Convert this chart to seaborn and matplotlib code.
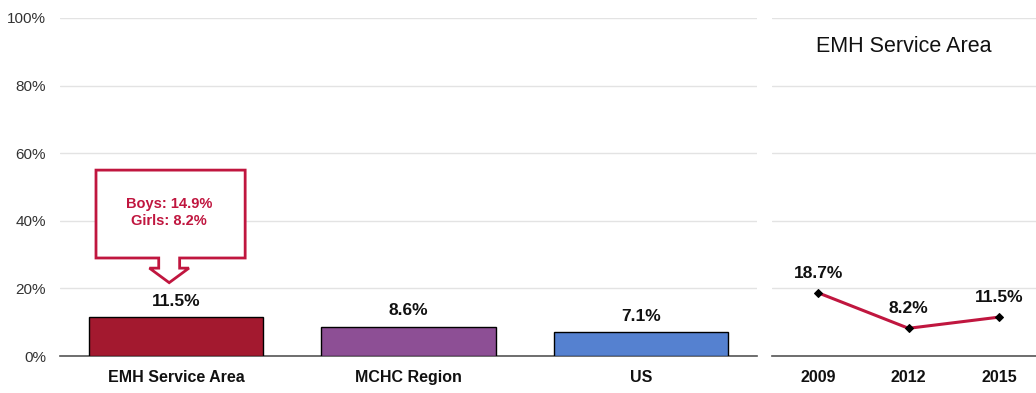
import matplotlib
matplotlib.use("Agg")
import matplotlib.pyplot as plt
import seaborn as sns
import pandas as pd
from matplotlib.patches import Polygon
from matplotlib.ticker import FuncFormatter

categories = ["EMH Service Area", "MCHC Region", "US"]
values = [11.5, 8.6, 7.1]
bar_colors = ["#A3192F", "#8D4F95", "#5581D0"]
years = ["2009", "2012", "2015"]
trend = [18.7, 8.2, 11.5]
callout_lines = ["Boys: 14.9%", "Girls: 8.2%"]
yticks = [0, 20, 40, 60, 80, 100]

sns.set_theme(style="white")
plt.rcParams["font.family"] = ["Liberation Sans Narrow", "Liberation Sans", "DejaVu Sans"]

fig = plt.figure(figsize=(10.36, 3.93), dpi=100)
ax = fig.add_axes([0.0579, 0.0941, 0.6728, 0.8601])
ax2 = fig.add_axes([0.7452, 0.0941, 0.2548, 0.8601])

df = pd.DataFrame({"cat": categories, "val": values})
sns.barplot(data=df, x="cat", y="val", hue="cat", palette=bar_colors, legend=False,
            width=0.75, edgecolor="black", linewidth=1.0, ax=ax, zorder=3,
            saturation=1)
ax.set_xlim(-0.5, 2.5)
ax.set_ylim(0, 100)
ax.set_yticks(yticks)
ax.yaxis.set_major_formatter(FuncFormatter(lambda v, p: f"{v:.0f}%"))
ax.grid(axis="y", color="#E3E3E3", linewidth=1, zorder=0)
ax.set_xlabel("")
ax.set_ylabel("")
for s in ["top", "right", "left"]:
    ax.spines[s].set_visible(False)
ax.spines["bottom"].set_color("#555555")
ax.spines["bottom"].set_linewidth(1.2)
ax.tick_params(axis="y", labelsize=11, colors="#333333", length=0, pad=10)
ax.tick_params(axis="x", labelsize=11.5, length=0, pad=10)
for lbl in ax.get_xticklabels():
    lbl.set_fontweight("bold")
    lbl.set_color("#111111")
for i, v in enumerate(values):
    ax.text(i, v + 2.5, f"{v}%", ha="center", va="bottom", fontsize=12.5,
            fontweight="bold", color="#111111")

# callout
red = "#C0163F"
cx = -0.03
box = [(-0.345, 55.0), (0.297, 55.0), (0.297, 29.0), (cx + 0.045, 29.0),
       (cx + 0.045, 26.0), (cx + 0.085, 26.0), (cx, 21.7), (cx - 0.085, 26.0),
       (cx - 0.045, 26.0), (cx - 0.045, 29.0), (-0.345, 29.0)]
ax.add_patch(Polygon(box, closed=True, facecolor="white", edgecolor=red,
                     linewidth=2, zorder=4, joinstyle="miter"))
ax.text(-0.03, 42.5, "\n".join(callout_lines), ha="center", va="center",
        fontsize=10.5, fontweight="bold", color=red, zorder=5, linespacing=1.25)

# right panel
dft = pd.DataFrame({"year": years, "val": trend})
sns.lineplot(data=dft, x="year", y="val", color=red, linewidth=2.2, ax=ax2,
             marker="D", markersize=4, markerfacecolor="black",
             markeredgecolor="black", zorder=3, sort=False)
ax2.set_xlim(-0.51, 2.41)
ax2.set_ylim(0, 100)
ax2.set_yticks(yticks)
ax2.set_yticklabels([])
ax2.grid(axis="y", color="#E3E3E3", linewidth=1, zorder=0)
ax2.set_xlabel("")
ax2.set_ylabel("")
for s in ["top", "right", "left"]:
    ax2.spines[s].set_visible(False)
ax2.spines["bottom"].set_color("#555555")
ax2.spines["bottom"].set_linewidth(1.2)
ax2.tick_params(axis="y", length=0)
ax2.tick_params(axis="x", labelsize=11.5, length=0, pad=10)
for lbl in ax2.get_xticklabels():
    lbl.set_fontweight("bold")
    lbl.set_color("#111111")
for i, v in enumerate(trend):
    ax2.text(i, v + 3.5, f"{v}%", ha="center", va="bottom", fontsize=12.5,
             fontweight="bold", color="#111111")
ax2.text(0.5, 0.915, "EMH Service Area", transform=ax2.transAxes, ha="center",
         va="center", fontsize=15.5, color="#111111")

fig.savefig("out.png", dpi=100)
